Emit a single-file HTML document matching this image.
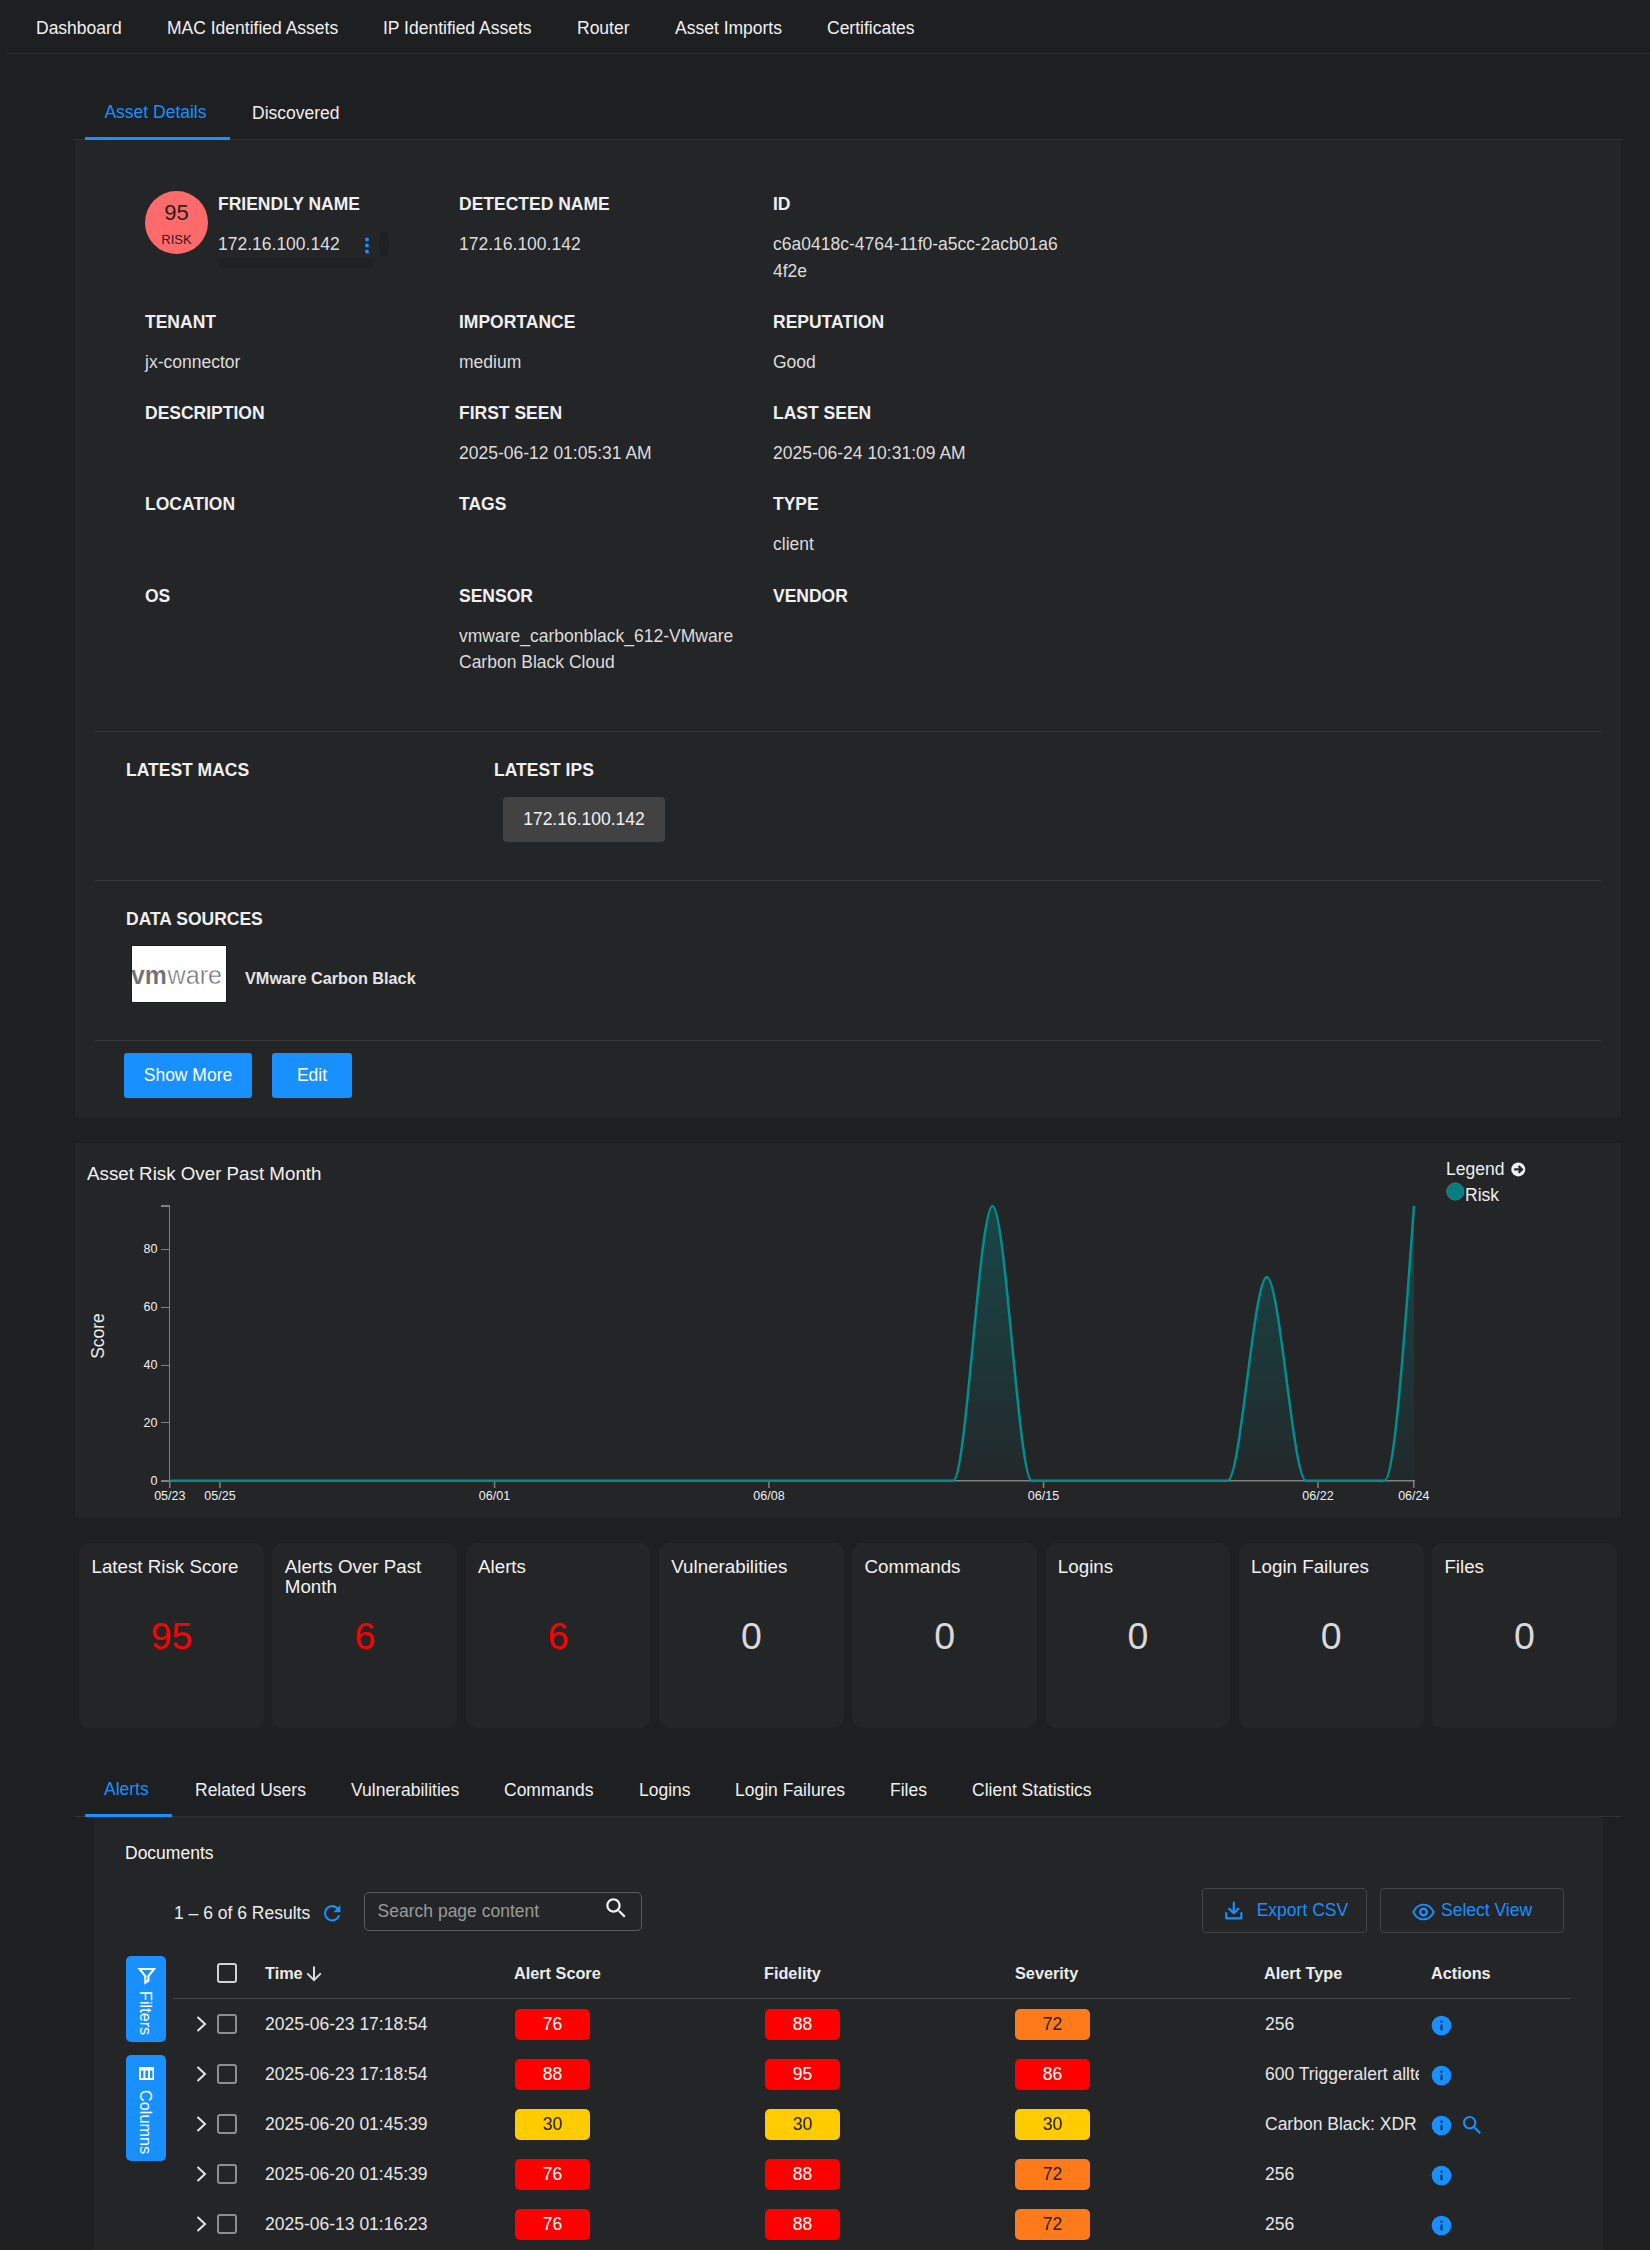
<!DOCTYPE html>
<html><head><meta charset="utf-8">
<style>
*{box-sizing:border-box;margin:0;padding:0}
html,body{width:1650px;height:2250px;overflow:hidden;background:#1e1f21}
body{font-family:"Liberation Sans",sans-serif;font-size:17.5px;color:#f0f0f0;position:relative}
.a{position:absolute}
.t{position:absolute;white-space:nowrap;line-height:20px;height:20px}
.b{font-weight:700}
.lbl{position:absolute;white-space:nowrap;line-height:20px;font-weight:700;font-size:17.5px;color:#f0f0f0}
.val{position:absolute;white-space:nowrap;line-height:20px;font-size:17.5px;color:#dcdcdc}
.blue{color:#1890ff}
.hl{position:absolute;height:1px;background:#38393b}
.panel{position:absolute;background:#242527}
</style></head><body>
<!-- NAV -->
<div class="hl" style="left:7px;top:53px;width:1643px;background:#303133"></div>
<div class="t" style="left:36px;top:18px">Dashboard</div>
<div class="t" style="left:167px;top:18px">MAC Identified Assets</div>
<div class="t" style="left:383px;top:18px">IP Identified Assets</div>
<div class="t" style="left:577px;top:18px">Router</div>
<div class="t" style="left:675px;top:18px">Asset Imports</div>
<div class="t" style="left:827px;top:18px">Certificates</div>
<!-- TABS1 -->
<div class="hl" style="left:75px;top:139px;width:1546px;background:#303133"></div>
<div class="t blue" style="left:104.4px;top:102px">Asset Details</div>
<div class="t" style="left:252px;top:103px">Discovered</div>
<div class="a" style="left:85px;top:137px;width:145px;height:3px;background:#1890ff"></div>
<!-- PANEL1 -->
<div class="panel" style="left:75px;top:140px;width:1546px;height:978px"></div>

<div class="a" style="left:145px;top:191px;width:62.5px;height:63px;border-radius:50%;background:#ff6b6b"></div>
<div class="t" style="left:145px;top:201px;width:63px;text-align:center;font-size:22px;line-height:24px;height:24px;color:#1f1f1f">95</div>
<div class="t" style="left:145px;top:232px;width:63px;text-align:center;font-size:13px;line-height:16px;height:16px;color:#1f1f1f">RISK</div>
<div class="a" style="left:218px;top:258px;width:156px;height:10px;border-radius:5px;background:#202123"></div>
<div class="a" style="left:379px;top:231px;width:10px;height:26px;border-radius:5px;background:#202123"></div>
<svg class="a" style="left:363px;top:237px" width="8" height="17" viewBox="0 0 8 17"><circle cx="4" cy="2.5" r="1.9" fill="#1890ff"/><circle cx="4" cy="8.5" r="1.9" fill="#1890ff"/><circle cx="4" cy="14.5" r="1.9" fill="#1890ff"/></svg>
<div class="lbl" style="left:218px;top:194px">FRIENDLY NAME</div>
<div class="val" style="left:218px;top:234px">172.16.100.142</div>
<div class="lbl" style="left:459px;top:194px">DETECTED NAME</div>
<div class="val" style="left:459px;top:234px">172.16.100.142</div>
<div class="lbl" style="left:773px;top:194px">ID</div>
<div class="val" style="left:773px;top:234px">c6a0418c-4764-11f0-a5cc-2acb01a6</div>
<div class="val" style="left:773px;top:261px">4f2e</div>
<div class="lbl" style="left:145px;top:312px">TENANT</div>
<div class="val" style="left:145px;top:352px">jx-connector</div>
<div class="lbl" style="left:459px;top:312px">IMPORTANCE</div>
<div class="val" style="left:459px;top:352px">medium</div>
<div class="lbl" style="left:773px;top:312px">REPUTATION</div>
<div class="val" style="left:773px;top:352px">Good</div>
<div class="lbl" style="left:145px;top:403px">DESCRIPTION</div>
<div class="lbl" style="left:459px;top:403px">FIRST SEEN</div>
<div class="val" style="left:459px;top:443px">2025-06-12 01:05:31 AM</div>
<div class="lbl" style="left:773px;top:403px">LAST SEEN</div>
<div class="val" style="left:773px;top:443px">2025-06-24 10:31:09 AM</div>
<div class="lbl" style="left:145px;top:494px">LOCATION</div>
<div class="lbl" style="left:459px;top:494px">TAGS</div>
<div class="lbl" style="left:773px;top:494px">TYPE</div>
<div class="val" style="left:773px;top:534px">client</div>
<div class="lbl" style="left:145px;top:586px">OS</div>
<div class="lbl" style="left:459px;top:586px">SENSOR</div>
<div class="val" style="left:459px;top:626px">vmware_carbonblack_612-VMware</div>
<div class="val" style="left:459px;top:652px">Carbon Black Cloud</div>
<div class="lbl" style="left:773px;top:586px">VENDOR</div>
<div class="hl" style="left:95px;top:731px;width:1506px"></div>
<div class="lbl" style="left:126px;top:760px">LATEST MACS</div>
<div class="lbl" style="left:494px;top:760px">LATEST IPS</div>
<div class="a" style="left:503px;top:797px;width:162px;height:45px;border-radius:4px;background:#424242"></div>
<div class="t" style="left:503px;top:809px;width:162px;text-align:center;color:#f0f0f0">172.16.100.142</div>
<div class="hl" style="left:95px;top:880px;width:1506px"></div>
<div class="lbl" style="left:126px;top:909px">DATA SOURCES</div>
<div class="a" style="left:131px;top:945px;width:96px;height:58px;background:#1b1c1e"></div><svg class="a" style="left:132px;top:946px" width="94" height="56" viewBox="0 0 94 56" font-family="Liberation Sans, sans-serif"><rect x="0" y="0" width="94" height="56" fill="#fff"/><text x="-1" y="38" font-size="25.5" font-weight="700" fill="#717074" stroke="#fff" stroke-width="0.15" paint-order="fill stroke" textLength="36" lengthAdjust="spacingAndGlyphs">vm</text><text x="35.5" y="38" font-size="25" fill="#717074" stroke="#fff" stroke-width="0.45" paint-order="fill stroke" textLength="54.5" lengthAdjust="spacingAndGlyphs">ware</text></svg>
<div class="t b" style="left:245px;top:968px;font-size:16.25px;color:#e4e4e4">VMware Carbon Black</div>
<div class="hl" style="left:95px;top:1040px;width:1506px"></div>
<div class="a" style="left:124px;top:1053px;width:128px;height:45px;border-radius:3px;background:#1890ff"></div>
<div class="t" style="left:124px;top:1065px;width:128px;text-align:center;color:#fff">Show More</div>
<div class="a" style="left:272px;top:1053px;width:80px;height:45px;border-radius:3px;background:#1890ff"></div>
<div class="t" style="left:272px;top:1065px;width:80px;text-align:center;color:#fff">Edit</div>

<!-- CHART -->
<div class="panel" style="left:75px;top:1143px;width:1546px;height:375px"></div>

<div class="t" style="left:87px;top:1163px;font-size:18.75px;line-height:22px;height:22px;color:#f2f2f2">Asset Risk Over Past Month</div>
<svg class="a" style="left:0;top:1143px" width="1650" height="375" viewBox="0 1143 1650 375" font-family="Liberation Sans, sans-serif">
<defs><linearGradient id="ag" x1="0" y1="0" x2="0" y2="1"><stop offset="0" stop-color="#008b8b" stop-opacity="0.33"/><stop offset="1" stop-color="#008b8b" stop-opacity="0.035"/></linearGradient></defs>
<g fill="#808080" font-size="12.5">
<rect x="161" y="1205" width="9" height="2"/><rect x="169" y="1205" width="1" height="277"/><rect x="169" y="1480" width="1246" height="1.5"/>
<rect x="161" y="1480" width="8.5" height="2"/><text fill="#f0f0f0" x="157.5" y="1484.7" text-anchor="end">0</text><rect x="161" y="1422" width="8.5" height="1"/><text fill="#f0f0f0" x="157.5" y="1426.9" text-anchor="end">20</text><rect x="161" y="1365" width="8.5" height="1"/><text fill="#f0f0f0" x="157.5" y="1369.0" text-anchor="end">40</text><rect x="161" y="1307" width="8.5" height="1"/><text fill="#f0f0f0" x="157.5" y="1311.2" text-anchor="end">60</text><rect x="161" y="1249" width="8.5" height="1"/><text fill="#f0f0f0" x="157.5" y="1253.3" text-anchor="end">80</text><rect x="169.0" y="1481" width="1.5" height="7"/><text fill="#f0f0f0" x="169.8" y="1500.3" text-anchor="middle">05/23</text><rect x="219.2" y="1481" width="1.5" height="7"/><text fill="#f0f0f0" x="220.0" y="1500.3" text-anchor="middle">05/25</text><rect x="493.8" y="1481" width="1.5" height="7"/><text fill="#f0f0f0" x="494.5" y="1500.3" text-anchor="middle">06/01</text><rect x="768.2" y="1481" width="1.5" height="7"/><text fill="#f0f0f0" x="769.0" y="1500.3" text-anchor="middle">06/08</text><rect x="1042.8" y="1481" width="1.5" height="7"/><text fill="#f0f0f0" x="1043.5" y="1500.3" text-anchor="middle">06/15</text><rect x="1317.2" y="1481" width="1.5" height="7"/><text fill="#f0f0f0" x="1318.0" y="1500.3" text-anchor="middle">06/22</text><rect x="1413.0" y="1481" width="1.5" height="7"/><text fill="#f0f0f0" x="1413.8" y="1500.3" text-anchor="middle">06/24</text>
</g>
<path d="M169.50,1480.70L208.69,1480.70L247.88,1480.70L287.07,1480.70L326.26,1480.70L365.45,1480.70L404.64,1480.70L443.83,1480.70L483.02,1480.70L522.21,1480.70L561.40,1480.70L600.59,1480.70L639.78,1480.70L678.97,1480.70L718.16,1480.70L757.35,1480.70L796.54,1480.70L835.73,1480.70L874.92,1480.70L914.11,1480.70L953.30,1480.70C966.36,1480.70 979.43,1205.91 992.49,1205.91C1005.55,1205.91 1018.62,1480.70 1031.68,1480.70L1070.87,1480.70L1110.06,1480.70L1149.25,1480.70L1188.44,1480.70L1227.63,1480.70C1240.69,1480.70 1253.76,1277.07 1266.82,1277.07C1279.88,1277.07 1292.95,1480.70 1306.01,1480.70L1345.20,1480.70L1384.39,1480.70C1394.26,1480.70 1404.13,1343.31 1414.00,1205.91L1414,1480.70L169.50,1480.70Z" fill="url(#ag)"/>
<path d="M169.50,1480.70L208.69,1480.70L247.88,1480.70L287.07,1480.70L326.26,1480.70L365.45,1480.70L404.64,1480.70L443.83,1480.70L483.02,1480.70L522.21,1480.70L561.40,1480.70L600.59,1480.70L639.78,1480.70L678.97,1480.70L718.16,1480.70L757.35,1480.70L796.54,1480.70L835.73,1480.70L874.92,1480.70L914.11,1480.70L953.30,1480.70C966.36,1480.70 979.43,1205.91 992.49,1205.91C1005.55,1205.91 1018.62,1480.70 1031.68,1480.70L1070.87,1480.70L1110.06,1480.70L1149.25,1480.70L1188.44,1480.70L1227.63,1480.70C1240.69,1480.70 1253.76,1277.07 1266.82,1277.07C1279.88,1277.07 1292.95,1480.70 1306.01,1480.70L1345.20,1480.70L1384.39,1480.70C1394.26,1480.70 1404.13,1343.31 1414.00,1205.91" fill="none" stroke="#008f8f" stroke-width="2.5"/>
<text transform="translate(104,1336) rotate(-90)" text-anchor="middle" font-size="17.5" fill="#ededed">Score</text>
<text x="1446" y="1175" font-size="17.5" fill="#f0f0f0">Legend</text>
<circle cx="1518.3" cy="1169.4" r="7" fill="#f0f0f0"/>
<path d="M1514.2,1169.4 H1521.6 M1518.6,1166 L1522,1169.4 L1518.6,1172.8" fill="none" stroke="#242527" stroke-width="2.2"/>
<circle cx="1455.3" cy="1191.5" r="8.6" fill="#008080" stroke="#6a6a6a" stroke-width="1"/>
<text x="1465" y="1201" font-size="17.5" fill="#f0f0f0">Risk</text>
</svg>

<!-- CARDS -->
<div class="a" style="left:79.20px;top:1543px;width:184.7px;height:184.6px;border-radius:10px;background:#242527"></div>
<div class="t" style="left:91.50px;top:1556.7px;font-size:18.75px;line-height:20.625px;height:21px;color:#f2f2f2">Latest Risk Score</div>
<div class="t" style="left:79.20px;top:1613.5px;width:184.7px;text-align:center;font-size:37.5px;line-height:44px;height:44px;color:#ff0000">95</div>
<div class="a" style="left:272.47px;top:1543px;width:184.7px;height:184.6px;border-radius:10px;background:#242527"></div>
<div class="t" style="left:284.77px;top:1556.7px;font-size:18.75px;line-height:20.625px;height:21px;color:#f2f2f2">Alerts Over Past</div>
<div class="t" style="left:284.77px;top:1577.3px;font-size:18.75px;line-height:20.625px;height:21px;color:#f2f2f2">Month</div>
<div class="t" style="left:272.47px;top:1613.5px;width:184.7px;text-align:center;font-size:37.5px;line-height:44px;height:44px;color:#ff0000">6</div>
<div class="a" style="left:465.74px;top:1543px;width:184.7px;height:184.6px;border-radius:10px;background:#242527"></div>
<div class="t" style="left:478.04px;top:1556.7px;font-size:18.75px;line-height:20.625px;height:21px;color:#f2f2f2">Alerts</div>
<div class="t" style="left:465.74px;top:1613.5px;width:184.7px;text-align:center;font-size:37.5px;line-height:44px;height:44px;color:#ff0000">6</div>
<div class="a" style="left:659.01px;top:1543px;width:184.7px;height:184.6px;border-radius:10px;background:#242527"></div>
<div class="t" style="left:671.31px;top:1556.7px;font-size:18.75px;line-height:20.625px;height:21px;color:#f2f2f2">Vulnerabilities</div>
<div class="t" style="left:659.01px;top:1613.5px;width:184.7px;text-align:center;font-size:37.5px;line-height:44px;height:44px;color:#d9d9d9">0</div>
<div class="a" style="left:852.28px;top:1543px;width:184.7px;height:184.6px;border-radius:10px;background:#242527"></div>
<div class="t" style="left:864.58px;top:1556.7px;font-size:18.75px;line-height:20.625px;height:21px;color:#f2f2f2">Commands</div>
<div class="t" style="left:852.28px;top:1613.5px;width:184.7px;text-align:center;font-size:37.5px;line-height:44px;height:44px;color:#d9d9d9">0</div>
<div class="a" style="left:1045.55px;top:1543px;width:184.7px;height:184.6px;border-radius:10px;background:#242527"></div>
<div class="t" style="left:1057.85px;top:1556.7px;font-size:18.75px;line-height:20.625px;height:21px;color:#f2f2f2">Logins</div>
<div class="t" style="left:1045.55px;top:1613.5px;width:184.7px;text-align:center;font-size:37.5px;line-height:44px;height:44px;color:#d9d9d9">0</div>
<div class="a" style="left:1238.82px;top:1543px;width:184.7px;height:184.6px;border-radius:10px;background:#242527"></div>
<div class="t" style="left:1251.12px;top:1556.7px;font-size:18.75px;line-height:20.625px;height:21px;color:#f2f2f2">Login Failures</div>
<div class="t" style="left:1238.82px;top:1613.5px;width:184.7px;text-align:center;font-size:37.5px;line-height:44px;height:44px;color:#d9d9d9">0</div>
<div class="a" style="left:1432.09px;top:1543px;width:184.7px;height:184.6px;border-radius:10px;background:#242527"></div>
<div class="t" style="left:1444.39px;top:1556.7px;font-size:18.75px;line-height:20.625px;height:21px;color:#f2f2f2">Files</div>
<div class="t" style="left:1432.09px;top:1613.5px;width:184.7px;text-align:center;font-size:37.5px;line-height:44px;height:44px;color:#d9d9d9">0</div>
<!-- TABS2 -->
<div class="hl" style="left:75px;top:1816px;width:1546px;background:#303133"></div>
<div class="t blue" style="left:104px;top:1779px">Alerts</div>
<div class="t" style="left:195px;top:1780px">Related Users</div>
<div class="t" style="left:351px;top:1780px">Vulnerabilities</div>
<div class="t" style="left:504px;top:1780px">Commands</div>
<div class="t" style="left:639px;top:1780px">Logins</div>
<div class="t" style="left:735px;top:1780px">Login Failures</div>
<div class="t" style="left:890px;top:1780px">Files</div>
<div class="t" style="left:972px;top:1780px">Client Statistics</div>
<div class="a" style="left:85px;top:1814px;width:86.5px;height:3px;background:#1890ff"></div>

<!-- TABLE -->
<div class="panel" style="left:94px;top:1817px;width:1509px;height:433px"></div>
<div class="t" style="left:125px;top:1843px;color:#f5f5f5">Documents</div>
<div class="t" style="left:174px;top:1903px;color:#ececec">1 – 6 of 6 Results</div>
<svg class="a" style="left:319.7px;top:1901.2px" width="24.5" height="24.5" viewBox="0 0 24 24"><path fill="#1890ff" d="M17.65 6.35C16.2 4.9 14.21 4 12 4c-4.42 0-7.99 3.58-7.99 8s3.57 8 7.99 8c3.73 0 6.84-2.55 7.73-6h-2.08c-.82 2.33-3.04 4-5.65 4-3.31 0-6-2.69-6-6s2.69-6 6-6c1.66 0 3.14.69 4.22 1.78L13 11h7V4l-2.35 2.35z"/></svg>
<div class="a" style="left:364px;top:1892px;width:278px;height:39px;border:1px solid #5c5c5c;border-radius:5px"></div>
<div class="t" style="left:377.6px;top:1901px;color:#9a9a9a">Search page content</div>
<svg class="a" style="left:602.8px;top:1894.7px" width="26.5" height="26.5" viewBox="0 0 24 24"><path fill="#f2f2f2" d="M15.5 14h-.79l-.28-.27C15.41 12.59 16 11.11 16 9.5 16 5.91 13.09 3 9.5 3S3 5.91 3 9.5 5.91 16 9.5 16c1.61 0 3.09-.59 4.23-1.57l.27.28v.79l5 4.99L20.49 19l-4.99-5zm-6 0C7.01 14 5 11.99 5 9.5S7.01 5 9.5 5 14 7.01 14 9.5 11.99 14 9.5 14z"/></svg>
<div class="a" style="left:1202px;top:1888px;width:165px;height:45px;border:1px solid #434446;border-radius:4px"></div>
<svg class="a" style="left:1223.2px;top:1900.3px" width="21.6" height="21.6" viewBox="0 0 20 20" fill="none" stroke="#1890ff" stroke-width="2" stroke-linecap="round" stroke-linejoin="round"><path d="M10 2.5v9.5M5.8 8.2 10 12.2l4.2-4M3 12v5h14v-5"/></svg>
<div class="t blue" style="left:1256.7px;top:1900px">Export CSV</div>
<div class="a" style="left:1380px;top:1888px;width:184px;height:45px;border:1px solid #434446;border-radius:4px"></div>
<svg class="a" style="left:1411.8px;top:1902px" width="23" height="20" viewBox="0 0 23 20" fill="none" stroke="#1890ff" stroke-width="1.9"><path d="M1.3 10C3.6 5.2 7.2 2.6 11.5 2.6S19.4 5.2 21.7 10C19.4 14.8 15.8 17.4 11.5 17.4S3.6 14.8 1.3 10Z"/><circle cx="11.5" cy="10" r="3.3" stroke-width="2.4"/></svg>
<div class="t blue" style="left:1441px;top:1900px">Select View</div>
<div class="a" style="left:126px;top:1956px;width:40px;height:86px;border-radius:5px;background:#1890ff"></div>
<svg class="a" style="left:137px;top:1966px" width="19" height="19" viewBox="0 0 19 19" fill="none" stroke="#fff" stroke-width="2.1" stroke-linejoin="miter"><path d="M2.6 3H17L11.4 10V14.6L8.3 16.7V10Z"/></svg>
<div class="t" style="left:136px;top:1990.6px;width:20px;height:44px;line-height:20px;font-size:16.25px;color:#fff;writing-mode:vertical-rl">Filters</div>
<div class="a" style="left:126px;top:2055px;width:40px;height:106px;border-radius:5px;background:#1890ff"></div>
<svg class="a" style="left:138.5px;top:2067px" width="15.4" height="13" viewBox="0 0 15.4 13" fill="none" stroke="#fff" stroke-width="1.9"><path d="M1 1h13.4v11H1zM5.4 1v11M10 1v11" /><path d="M1 2h13.4" stroke-width="3"/></svg>
<div class="t" style="left:136px;top:2089.8px;width:20px;height:66px;line-height:20px;font-size:16.25px;color:#fff;writing-mode:vertical-rl">Columns</div>
<div class="a" style="left:217px;top:1963px;width:20px;height:20px;border:2px solid #d2d2d2;border-radius:3px"></div>
<div class="t b" style="left:265px;top:1963px;font-size:16.25px;color:#ececec">Time</div>
<div class="t b" style="left:514px;top:1963px;font-size:16.25px;color:#ececec">Alert Score</div>
<div class="t b" style="left:764px;top:1963px;font-size:16.25px;color:#ececec">Fidelity</div>
<div class="t b" style="left:1015px;top:1963px;font-size:16.25px;color:#ececec">Severity</div>
<div class="t b" style="left:1264px;top:1963px;font-size:16.25px;color:#ececec">Alert Type</div>
<div class="t b" style="left:1431px;top:1963px;font-size:16.25px;color:#ececec">Actions</div>
<svg class="a" style="left:305px;top:1965px" width="18" height="17" viewBox="0 0 18 17" fill="none" stroke="#dcdcdc" stroke-width="2"><path d="M9 1.5v13.4M2.2 8.4l6.8 6.8 6.8-6.8"/></svg>
<div class="hl" style="left:173px;top:1998px;width:1397px;background:#48494b"></div>
<svg class="a" style="left:195px;top:2015.2px" width="13" height="18" viewBox="0 0 13 18" fill="none" stroke="#e4e4e4" stroke-width="2"><path d="M2.5 2 10 9 2.5 16"/></svg>
<div class="a" style="left:217px;top:2014px;width:20px;height:20px;border:2px solid #8e8e8e;border-radius:3px"></div>
<div class="t" style="left:265px;top:2014px;color:#e6e6e6">2025-06-23 17:18:54</div>
<div class="t" style="left:515px;top:2009px;width:75px;height:31px;line-height:30px;border-radius:5px;background:#ff0000;color:#fff;text-align:center">76</div>
<div class="t" style="left:765px;top:2009px;width:75px;height:31px;line-height:30px;border-radius:5px;background:#ff0000;color:#fff;text-align:center">88</div>
<div class="t" style="left:1015px;top:2009px;width:75px;height:31px;line-height:30px;border-radius:5px;background:#ff7a1a;color:#1f1f1f;text-align:center">72</div>
<div class="t" style="left:1265px;top:2014px;width:154px;overflow:hidden;color:#e6e6e6">256</div>
<svg class="a" style="left:1431.4px;top:2015px" width="21" height="21" viewBox="0 0 21 21"><circle cx="10.5" cy="10.5" r="9.8" fill="#1890ff"/><rect x="9.55" y="5.7" width="1.9" height="1.9" fill="#1c1d1f"/><rect x="9.55" y="9.6" width="1.9" height="5.6" fill="#1c1d1f"/></svg>
<svg class="a" style="left:195px;top:2065.2px" width="13" height="18" viewBox="0 0 13 18" fill="none" stroke="#e4e4e4" stroke-width="2"><path d="M2.5 2 10 9 2.5 16"/></svg>
<div class="a" style="left:217px;top:2064px;width:20px;height:20px;border:2px solid #8e8e8e;border-radius:3px"></div>
<div class="t" style="left:265px;top:2064px;color:#e6e6e6">2025-06-23 17:18:54</div>
<div class="t" style="left:515px;top:2059px;width:75px;height:31px;line-height:30px;border-radius:5px;background:#ff0000;color:#fff;text-align:center">88</div>
<div class="t" style="left:765px;top:2059px;width:75px;height:31px;line-height:30px;border-radius:5px;background:#ff0000;color:#fff;text-align:center">95</div>
<div class="t" style="left:1015px;top:2059px;width:75px;height:31px;line-height:30px;border-radius:5px;background:#ff0000;color:#fff;text-align:center">86</div>
<div class="t" style="left:1265px;top:2064px;width:154px;overflow:hidden;color:#e6e6e6">600 Triggeralert allteams</div>
<svg class="a" style="left:1431.4px;top:2065px" width="21" height="21" viewBox="0 0 21 21"><circle cx="10.5" cy="10.5" r="9.8" fill="#1890ff"/><rect x="9.55" y="5.7" width="1.9" height="1.9" fill="#1c1d1f"/><rect x="9.55" y="9.6" width="1.9" height="5.6" fill="#1c1d1f"/></svg>
<svg class="a" style="left:195px;top:2115.2px" width="13" height="18" viewBox="0 0 13 18" fill="none" stroke="#e4e4e4" stroke-width="2"><path d="M2.5 2 10 9 2.5 16"/></svg>
<div class="a" style="left:217px;top:2114px;width:20px;height:20px;border:2px solid #8e8e8e;border-radius:3px"></div>
<div class="t" style="left:265px;top:2114px;color:#e6e6e6">2025-06-20 01:45:39</div>
<div class="t" style="left:515px;top:2109px;width:75px;height:31px;line-height:30px;border-radius:5px;background:#ffcc00;color:#1f1f1f;text-align:center">30</div>
<div class="t" style="left:765px;top:2109px;width:75px;height:31px;line-height:30px;border-radius:5px;background:#ffcc00;color:#1f1f1f;text-align:center">30</div>
<div class="t" style="left:1015px;top:2109px;width:75px;height:31px;line-height:30px;border-radius:5px;background:#ffcc00;color:#1f1f1f;text-align:center">30</div>
<div class="t" style="left:1265px;top:2114px;width:154px;overflow:hidden;color:#e6e6e6">Carbon Black: XDR</div>
<svg class="a" style="left:1431.4px;top:2115px" width="21" height="21" viewBox="0 0 21 21"><circle cx="10.5" cy="10.5" r="9.8" fill="#1890ff"/><rect x="9.55" y="5.7" width="1.9" height="1.9" fill="#1c1d1f"/><rect x="9.55" y="9.6" width="1.9" height="5.6" fill="#1c1d1f"/></svg>
<svg class="a" style="left:1459.9px;top:2113.3px" width="24.5" height="24.5" viewBox="0 0 24 24"><path fill="#1890ff" d="M15.5 14h-.79l-.28-.27C15.41 12.59 16 11.11 16 9.5 16 5.91 13.09 3 9.5 3S3 5.91 3 9.5 5.91 16 9.5 16c1.61 0 3.09-.59 4.23-1.57l.27.28v.79l5 4.99L20.49 19l-4.99-5zm-6 0C7.01 14 5 11.99 5 9.5S7.01 5 9.5 5 14 7.01 14 9.5 11.99 14 9.5 14z"/></svg>
<svg class="a" style="left:195px;top:2165.2px" width="13" height="18" viewBox="0 0 13 18" fill="none" stroke="#e4e4e4" stroke-width="2"><path d="M2.5 2 10 9 2.5 16"/></svg>
<div class="a" style="left:217px;top:2164px;width:20px;height:20px;border:2px solid #8e8e8e;border-radius:3px"></div>
<div class="t" style="left:265px;top:2164px;color:#e6e6e6">2025-06-20 01:45:39</div>
<div class="t" style="left:515px;top:2159px;width:75px;height:31px;line-height:30px;border-radius:5px;background:#ff0000;color:#fff;text-align:center">76</div>
<div class="t" style="left:765px;top:2159px;width:75px;height:31px;line-height:30px;border-radius:5px;background:#ff0000;color:#fff;text-align:center">88</div>
<div class="t" style="left:1015px;top:2159px;width:75px;height:31px;line-height:30px;border-radius:5px;background:#ff7a1a;color:#1f1f1f;text-align:center">72</div>
<div class="t" style="left:1265px;top:2164px;width:154px;overflow:hidden;color:#e6e6e6">256</div>
<svg class="a" style="left:1431.4px;top:2165px" width="21" height="21" viewBox="0 0 21 21"><circle cx="10.5" cy="10.5" r="9.8" fill="#1890ff"/><rect x="9.55" y="5.7" width="1.9" height="1.9" fill="#1c1d1f"/><rect x="9.55" y="9.6" width="1.9" height="5.6" fill="#1c1d1f"/></svg>
<svg class="a" style="left:195px;top:2215.2px" width="13" height="18" viewBox="0 0 13 18" fill="none" stroke="#e4e4e4" stroke-width="2"><path d="M2.5 2 10 9 2.5 16"/></svg>
<div class="a" style="left:217px;top:2214px;width:20px;height:20px;border:2px solid #8e8e8e;border-radius:3px"></div>
<div class="t" style="left:265px;top:2214px;color:#e6e6e6">2025-06-13 01:16:23</div>
<div class="t" style="left:515px;top:2209px;width:75px;height:31px;line-height:30px;border-radius:5px;background:#ff0000;color:#fff;text-align:center">76</div>
<div class="t" style="left:765px;top:2209px;width:75px;height:31px;line-height:30px;border-radius:5px;background:#ff0000;color:#fff;text-align:center">88</div>
<div class="t" style="left:1015px;top:2209px;width:75px;height:31px;line-height:30px;border-radius:5px;background:#ff7a1a;color:#1f1f1f;text-align:center">72</div>
<div class="t" style="left:1265px;top:2214px;width:154px;overflow:hidden;color:#e6e6e6">256</div>
<svg class="a" style="left:1431.4px;top:2215px" width="21" height="21" viewBox="0 0 21 21"><circle cx="10.5" cy="10.5" r="9.8" fill="#1890ff"/><rect x="9.55" y="5.7" width="1.9" height="1.9" fill="#1c1d1f"/><rect x="9.55" y="9.6" width="1.9" height="5.6" fill="#1c1d1f"/></svg>
</body></html>
